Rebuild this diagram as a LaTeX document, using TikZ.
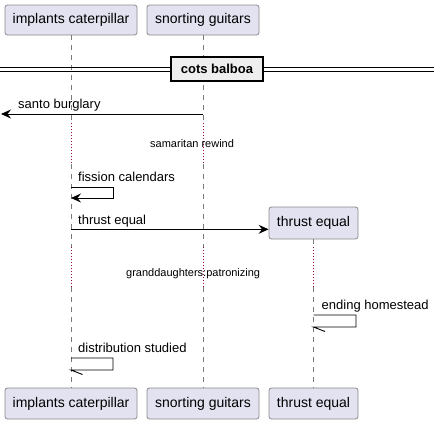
\documentclass[tikz,border=0pt]{standalone}
\usepackage{fontspec}
\setmainfont{Liberation Sans}
\usetikzlibrary{arrows.meta}
\definecolor{partfill}{HTML}{E2E2F0}
\definecolor{partdraw}{HTML}{8A8A8A}
\definecolor{lifecol}{HTML}{7A7A7A}
\definecolor{delaycol}{HTML}{9A0A3C}
\definecolor{divfill}{HTML}{EEEEEE}
\tikzset{
  participant/.style={draw=partdraw, fill=partfill, rounded corners=2.5pt, inner sep=0pt, line width=0.8pt, font=\fontsize{14}{16}\selectfont},
  msglabel/.style={inner sep=0pt, anchor=base west, font=\fontsize{13}{15}\selectfont},
  delaylabel/.style={inner sep=0pt, anchor=base west, font=\fontsize{11}{13}\selectfont},
  lifeline/.style={draw=lifecol, line width=0.8pt, dash pattern=on 5pt off 5pt},
  delayline/.style={draw=delaycol, line width=0.9pt, dash pattern=on 1pt off 2pt},
  arr/.style={line width=0.9pt, -{Stealth[length=10pt,width=9pt,inset=3.5pt]}},
  plain/.style={line width=0.9pt},
  divbox/.style={draw=black, line width=1.5pt, fill=divfill, inner sep=0pt, minimum width=92pt, minimum height=24pt, font=\bfseries\fontsize{13}{15}\selectfont}
}
\begin{document}
\begin{tikzpicture}[x=1pt,y=-1pt]
\useasboundingbox (0,0) rectangle (439,424);

% participants
\node[participant, minimum width=132pt, minimum height=30pt] (ic) at (71,20) {implants caterpillar};
\node[participant, minimum width=112pt, minimum height=30pt] (sg) at (203,20) {snorting guitars};
\node[participant, minimum width=89pt, minimum height=32pt] (te) at (313.5,223) {thrust equal};
\node[participant, minimum width=132pt, minimum height=31pt] (icb) at (71,403.5) {implants caterpillar};
\node[participant, minimum width=112pt, minimum height=31pt] (sgb) at (203,403.5) {snorting guitars};
\node[participant, minimum width=89pt, minimum height=31pt] (teb) at (313.5,403.5) {thrust equal};

% lifeline coordinates
\coordinate (icA) at (71,123); \coordinate (icB) at (71,164);
\coordinate (icC) at (71,247); \coordinate (icD) at (71,287);
\coordinate (sgA) at (203,123); \coordinate (sgB) at (203,164);
\coordinate (sgC) at (203,247); \coordinate (sgD) at (203,287);
\coordinate (teC) at (313.5,247); \coordinate (teD) at (313.5,287);

\draw[lifeline] (ic.south) -- (icA);
\draw[delayline] (icA) -- (icB);
\draw[lifeline] (icB) -- (icC);
\draw[delayline] (icC) -- (icD);
\draw[lifeline] (icD) -- (icb.north);

\draw[lifeline] (sg.south) -- (sgA);
\draw[delayline] (sgA) -- (sgB);
\draw[lifeline] (sgB) -- (sgC);
\draw[delayline] (sgC) -- (sgD);
\draw[lifeline] (sgD) -- (sgb.north);

\draw[lifeline] (te.south) -- (teC);
\draw[delayline] (teC) -- (teD);
\draw[lifeline] (teD) -- (teb.north);

% divider
\coordinate (dl1) at (0,67); \coordinate (dr1) at (434,67);
\coordinate (dl2) at (0,71); \coordinate (dr2) at (434,71);
\draw[line width=0.9pt] (dl1) -- (dr1);
\draw[line width=0.9pt] (dl2) -- (dr2);
\node[divbox] (div) at (217,69) {cots balboa};

% santo burglary
\coordinate (m1s) at (203,114); \coordinate (m1e) at (1,114);
\draw[arr] (m1s) -- (m1e);
\node[msglabel] (l1) at (18,108) {santo burglary};

% samaritan rewind
\node[delaylabel] (d1) at (150,147.5) {samaritan rewind};

% fission calendars
\coordinate (f1) at (71,187); \coordinate (f2) at (113,187);
\coordinate (f3) at (113,198); \coordinate (f4) at (71,198);
\draw[arr] (f1) -- (f2) -- (f3) -- (f4);
\node[msglabel] (l2) at (78,181.5) {fission calendars};

% thrust equal
\coordinate (t1) at (71,229.3);
\draw[arr] (t1) -- (t1 -| te.west);
\node[msglabel] (l3) at (78,224) {thrust equal};

% granddaughters
\node[delaylabel] (d2) at (126,276.5) {granddaughters:patronizing};

% ending homestead
\coordinate (e1) at (313.5,315); \coordinate (e2) at (356,315);
\coordinate (e3) at (356,327); \coordinate (e4) at (313.5,327);
\coordinate (e5) at (325,331.5);
\draw[plain] (e1) -- (e2) -- (e3) -- (e4) -- (e5);
\node[msglabel] (l4) at (321.5,309) {ending homestead};

% distribution studied
\coordinate (s1) at (71,358); \coordinate (s2) at (113,358);
\coordinate (s3) at (113,370); \coordinate (s4) at (71,370);
\coordinate (s5) at (82.5,374.5);
\draw[plain] (s1) -- (s2) -- (s3) -- (s4) -- (s5);
\node[msglabel] (l5) at (78,352.5) {distribution studied};
\end{tikzpicture}
\end{document}
